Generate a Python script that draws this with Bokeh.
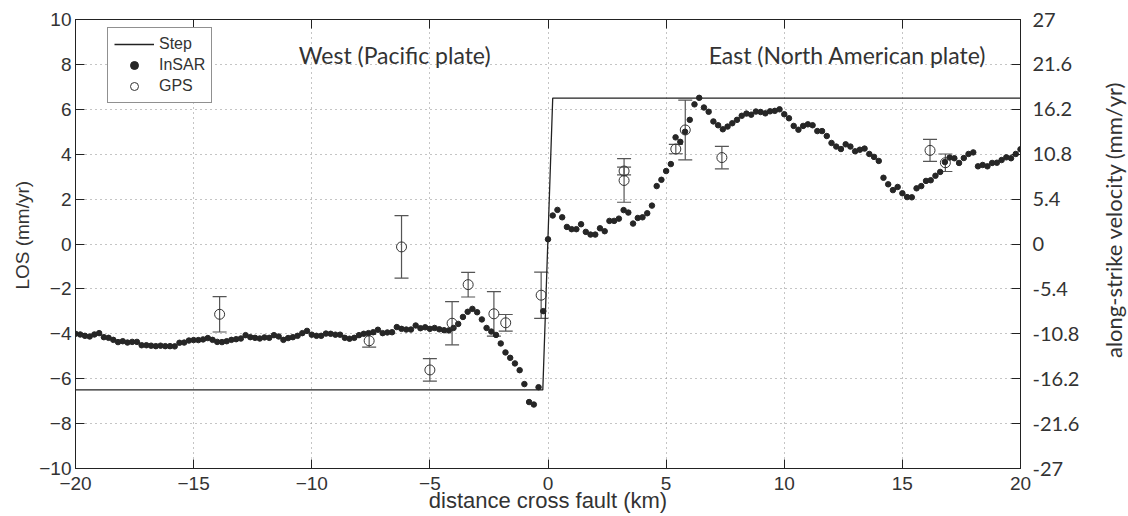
import math
from bokeh.plotting import figure
from bokeh.layouts import row
from bokeh.core.properties import value
from bokeh.models import (Range1d, LinearAxis, FixedTicker, Whisker, TeeHead,
                          ColumnDataSource, Legend, LegendItem, Label)
from bokeh.embed import file_html
from bokeh.resources import INLINE

# ---------------- data ----------------
insar_x = [
    -20.0, -19.8, -19.6, -19.4, -19.2, -19.0, -18.8, -18.6, -18.4, -18.2,
    -18.0, -17.8, -17.6, -17.4, -17.2, -17.0, -16.8, -16.6, -16.4, -16.2,
    -16.0, -15.8, -15.6, -15.4, -15.2, -15.0, -14.8, -14.6, -14.4, -14.2,
    -14.0, -13.8, -13.6, -13.4, -13.2, -13.0, -12.8, -12.6, -12.4, -12.2,
    -12.0, -11.8, -11.6, -11.4, -11.2, -11.0, -10.8, -10.6, -10.4, -10.2,
    -10.0, -9.8, -9.6, -9.4, -9.2, -9.0, -8.8, -8.6, -8.4, -8.2,
    -8.0, -7.8, -7.6, -7.4, -7.2, -7.0, -6.8, -6.6, -6.4,
    -6.2, -6.0, -5.8, -5.6, -5.4, -5.2, -5.0, -4.8, -4.6, -4.4,
    -4.2, -4.0, -3.8, -3.6, -3.4, -3.2, -3.0, -2.8, -2.6, -2.4,
    -2.2, -2.0, -1.8, -1.6, -1.4, -1.2, -1.0, -0.8, -0.6, -0.4,
    -0.2,
    0.0, 0.2, 0.4, 0.6, 0.8, 1.0, 1.2, 1.4, 1.6, 1.8,
    2.0, 2.2, 2.4, 2.6, 2.8, 3.0, 3.2, 3.4, 3.6, 3.8,
    4.0, 4.2, 4.4, 4.6, 4.8, 5.0, 5.2,
    5.4, 5.6, 5.8, 6.0, 6.2, 6.4, 6.6, 6.8, 7.0, 7.2,
    7.4, 7.6, 7.8, 8.0, 8.2, 8.4,
    8.6, 8.8, 9.0, 9.2, 9.4, 9.6, 9.8, 10.0, 10.2, 10.4,
    10.6, 10.8, 11.0, 11.2, 11.4, 11.6, 11.8, 12.0, 12.2, 12.4,
    12.6, 12.8, 13.0, 13.2, 13.4, 13.6, 13.8, 14.0, 14.2, 14.4,
    14.6, 14.8, 15.0, 15.2, 15.4, 15.6, 15.8, 16.0, 16.2, 16.4,
    16.6, 16.8, 17.0, 17.2, 17.4, 17.6, 17.8, 18.0, 18.2, 18.4,
    18.6, 18.8, 19.0, 19.2, 19.4, 19.6, 19.8, 20.0,
]
insar_y = [
    -4.00, -4.03, -4.09, -4.12, -4.03, -3.97, -4.15, -4.18, -4.27, -4.37,
    -4.33, -4.39, -4.36, -4.36, -4.51, -4.51, -4.53, -4.55, -4.53, -4.55,
    -4.55, -4.56, -4.40, -4.39, -4.30, -4.28, -4.28, -4.25, -4.19, -4.27,
    -4.36, -4.37, -4.33, -4.27, -4.24, -4.21, -4.06, -4.15, -4.18, -4.21,
    -4.16, -4.18, -4.06, -4.12, -4.27, -4.19, -4.15, -4.09, -3.97, -3.87,
    -4.04, -4.09, -4.09, -3.99, -4.00, -4.04, -4.04, -4.18, -4.22, -4.18,
    -4.06, -4.00, -3.97, -3.93, -3.82, -3.97, -3.94, -3.93, -3.70,
    -3.78, -3.81, -3.81, -3.63, -3.75, -3.71, -3.78, -3.74, -3.80, -3.84,
    -3.85, -3.74, -3.56, -3.25, -3.02, -2.89, -3.04, -3.36, -3.74, -3.90,
    -4.05, -4.43, -4.83, -5.07, -5.32, -5.62, -6.24, -7.04, -7.15, -6.38,
    -2.99,
    0.21, 1.27, 1.52, 1.19, 0.76, 0.66, 0.66, 0.88, 0.54, 0.42,
    0.42, 0.70, 0.57, 1.03, 1.03, 1.13, 1.51, 1.40, 0.91, 1.16,
    1.19, 1.37, 1.71, 2.58, 2.86, 3.25, 3.56,
    4.75, 4.55, 5.00, 5.53, 6.22, 6.51, 6.08, 5.89, 5.46, 5.29,
    5.11, 5.23, 5.38, 5.53, 5.71, 5.81,
    5.76, 5.90, 5.88, 5.82, 5.91, 5.93, 6.00, 5.78, 5.60, 5.26,
    5.09, 5.26, 5.33, 5.29, 5.03, 5.03, 4.81, 4.50, 4.34, 4.23,
    4.44, 4.34, 4.13, 4.20, 4.25, 4.01, 3.88, 3.70, 2.95, 2.66,
    2.40, 2.54, 2.26, 2.09, 2.08, 2.48, 2.58, 2.81, 2.84, 3.04,
    3.21, 3.65, 3.85, 3.82, 3.61, 3.83, 4.01, 4.08, 3.46, 3.52,
    3.46, 3.61, 3.62, 3.74, 3.86, 3.82, 4.01, 4.22,
]

step_x = [-20.0, -0.22, 0.2, 20.0]
step_y = [-6.5, -6.5, 6.5, 6.5]

gps_x = [-13.9, -7.57, -6.2, -5.0, -4.06, -3.38, -2.29, -1.79, -0.29,
         3.22, 3.22, 5.41, 5.81, 7.36, 16.17, 16.82]
gps_y = [-3.13, -4.31, -0.13, -5.61, -3.53, -1.81, -3.11, -3.51, -2.28,
         3.25, 2.83, 4.23, 5.08, 3.85, 4.17, 3.62]
gps_err = [0.79, 0.28, 1.39, 0.50, 0.96, 0.55, 0.99, 0.37, 1.03,
           0.17, 0.97, 0.21, 1.33, 0.50, 0.49, 0.39]

x_ticks = [-20, -15, -10, -5, 0, 5, 10, 15, 20]
x_tick_labels = ["\u221220", "\u221215", "\u221210", "\u22125", "0", "5", "10", "15", "20"]
y_ticks = [-10, -8, -6, -4, -2, 0, 2, 4, 6, 8, 10]
y_tick_labels = ["\u221210", "\u22128", "\u22126", "\u22124", "\u22122", "0",
                 "2", "4", "6", "8", "10"]
v_ticks = [-27, -21.6, -16.2, -10.8, -5.4, 0, 5.4, 10.8, 16.2, 21.6, 27]
v_tick_labels = ["-27", "-21.6", "-16.2", "-10.8", "-5.4", "0",
                 "5.4", "10.8", "16.2", "21.6", "27"]

west_text = "West (Pacific plate)"
east_text = "East (North American plate)"
x_title = "distance cross fault (km)"
y_title = "LOS (mm/yr)"
v_title = "along-strike velocity (mm/yr)"

# ---------------- main figure ----------------
TXT = "#333333"
LEFT_STRIP = 35
RIGHT_STRIP = 30
p = figure(width=1128 - LEFT_STRIP - RIGHT_STRIP, height=516,
           output_backend="svg", toolbar_location=None,
           x_range=Range1d(-20, 20), y_range=Range1d(-10, 10),
           min_border_left=75 - LEFT_STRIP, min_border_right=78,
           min_border_top=19, min_border_bottom=48)
p.extra_y_ranges = {"v": Range1d(-27, 27)}
p.outline_line_color = "#222222"
p.outline_line_width = 1
p.background_fill_color = "white"
p.border_fill_color = "white"

def style_axis(ax, font, size):
    ax.major_tick_in = 9
    ax.major_tick_out = 0
    ax.minor_tick_in = 0
    ax.minor_tick_out = 0
    ax.axis_line_color = "#222222"
    ax.major_tick_line_color = "#222222"
    ax.major_label_text_font = font
    ax.major_label_text_font_size = size
    ax.major_label_text_color = TXT
    ax.axis_label_text_font = font
    ax.axis_label_text_font_style = "normal"
    ax.axis_label_text_color = TXT

xa = p.xaxis[0]
xa.ticker = FixedTicker(ticks=x_ticks)
xa.major_label_overrides = {t: s for t, s in zip(x_ticks, x_tick_labels)}
style_axis(xa, "Liberation Sans", "19px")
xa.axis_label = x_title
xa.axis_label_text_font_size = "22px"
xa.major_label_standoff = 8
xa.axis_label_standoff = -5

ya = p.yaxis[0]
ya.ticker = FixedTicker(ticks=y_ticks)
ya.major_label_overrides = {t: s for t, s in zip(y_ticks, y_tick_labels)}
style_axis(ya, "Liberation Sans", "19px")
ya.major_label_standoff = 4

ra = LinearAxis(y_range_name="v", ticker=FixedTicker(ticks=v_ticks))
ra.major_label_overrides = {t: s for t, s in zip(v_ticks, v_tick_labels)}
style_axis(ra, "Lato", "20px")
ra.major_label_standoff = 12
p.add_layout(ra, "right")

ta = LinearAxis(ticker=FixedTicker(ticks=x_ticks))
style_axis(ta, "Liberation Sans", "0px")
ta.major_label_standoff = 0
ta.major_label_overrides = {t: "" for t in x_ticks}
p.add_layout(ta, "above")

for g in (p.xgrid[0], p.ygrid[0]):
    g.grid_line_color = "#8a8a8a"
    g.grid_line_dash = "1 4"
    g.grid_line_width = 1
p.xgrid[0].ticker = FixedTicker(ticks=x_ticks)
p.ygrid[0].ticker = FixedTicker(ticks=y_ticks)

# ---------------- glyphs ----------------
step_r = p.line(step_x, step_y, line_color="#222222", line_width=1.3)

insar_r = p.scatter(insar_x, insar_y, size=5.5, marker="circle",
                    fill_color="#262626", line_color="#262626")

lower = [y - e for y, e in zip(gps_y, gps_err)]
upper = [y + e for y, e in zip(gps_y, gps_err)]
src = ColumnDataSource(dict(x=gps_x, y=gps_y, lower=lower, upper=upper))
wcol = "#555555"
wh = Whisker(base="x", lower="lower", upper="upper", source=src,
             line_color=wcol, line_width=1.2,
             upper_head=TeeHead(size=14, line_color=wcol, line_width=1.2),
             lower_head=TeeHead(size=14, line_color=wcol, line_width=1.2))
p.add_layout(wh)
gps_r = p.scatter("x", "y", source=src, size=10, marker="circle",
                  fill_color=None, line_color="#333333", line_width=1)

p.add_layout(Label(x=-10.55, y=8.4, text=west_text, text_font="Lato",
                   text_font_size="23px", text_color=TXT,
                   text_baseline="alphabetic"))
p.add_layout(Label(x=6.8, y=8.4, text=east_text, text_font="Lato",
                   text_font_size="23px", text_color=TXT,
                   text_baseline="alphabetic"))

legend = Legend(items=[LegendItem(label="Step", renderers=[step_r]),
                       LegendItem(label="InSAR", renderers=[insar_r]),
                       LegendItem(label="GPS", renderers=[gps_r])],
                location=(32, 365), glyph_width=40, glyph_height=20,
                label_height=20, padding=6, spacing=1, label_standoff=5,
                margin=0,
                label_text_font="Liberation Sans", label_text_font_size="16px",
                label_text_color=TXT, border_line_color="#222222",
                border_line_width=1, background_fill_alpha=1.0)
p.add_layout(legend, "center")

# ---------------- strips holding the rotated axis titles ----------------
def title_strip(width, xpos, ypos, text, font, size):
    s = figure(width=width, height=516, output_backend="svg",
               toolbar_location=None,
               x_range=Range1d(0, 1), y_range=Range1d(-10, 10),
               min_border_left=0, min_border_right=0, min_border_top=19,
               min_border_bottom=48)
    s.axis.visible = False
    s.grid.visible = False
    s.outline_line_color = None
    s.border_fill_color = "white"
    s.text(x=[xpos], y=[ypos], text=[text], angle=math.pi / 2,
           text_align="center", text_baseline="middle",
           text_font=value(font), text_font_size=size, text_color=TXT)
    return s

left = title_strip(LEFT_STRIP, 0.64, 0.39, y_title, "Liberation Sans", "19px")
right = title_strip(RIGHT_STRIP, 0.5, 1.08, v_title, "Lato", "22px")

layout = row(left, p, right, spacing=0)
open("out.html", "w").write(file_html(layout, INLINE))
